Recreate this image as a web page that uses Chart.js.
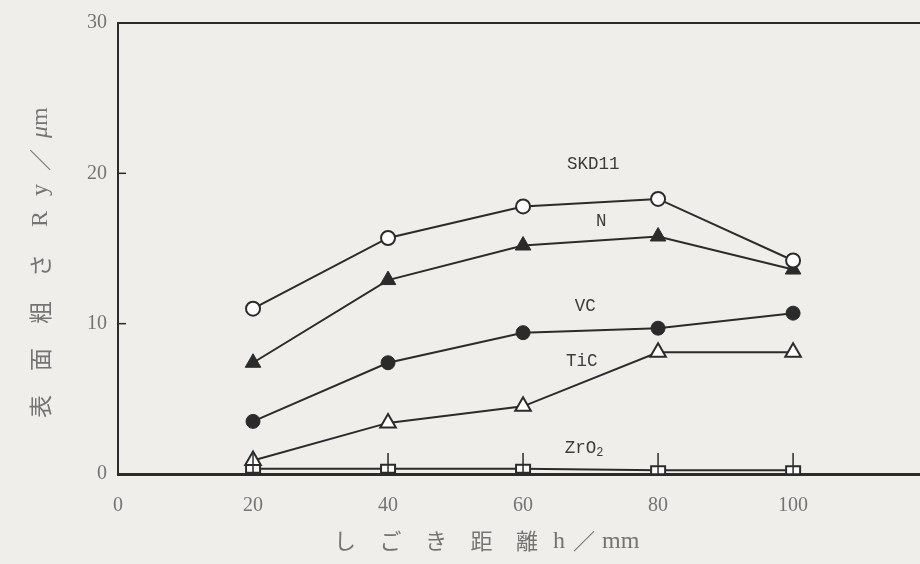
<!DOCTYPE html>
<html>
<head>
<meta charset="utf-8">
<script src="https://cdn.jsdelivr.net/npm/chart.js@4.4.1/dist/chart.umd.min.js"></script>
<style>
  html, body { margin: 0; padding: 0; background: #efeeeb; overflow: hidden; }
  #wrap { width: 920px; height: 564px; }
</style>
</head>
<body>
<div id="wrap"><canvas id="roughChart" width="920" height="564"></canvas></div>
<script>
// distance h / mm
var distances = [20, 40, 60, 80, 100];
var xTicks = [0, 20, 40, 60, 80, 100];
var yTicks = [0, 10, 20, 30];

// surface roughness Ry / um
var skd11 = [11.0, 15.7, 17.8, 18.3, 14.2];
var nitride = [7.4, 12.9, 15.2, 15.8, 13.6];
var vc = [3.5, 7.4, 9.4, 9.7, 10.7];
var tic = [0.9, 3.4, 4.5, 8.1, 8.1];
var zro2 = [0.35, 0.35, 0.35, 0.25, 0.25];

var seriesNames = ['SKD11', 'N', 'VC', 'TiC', 'ZrO\u2082'];
// where each series name sits (data coords)
var nameX = [70.4, 71.6, 69.2, 68.7, 69.2];
var nameY = [20.6, 16.8, 11.2, 7.5, 1.7];

var ink = '#2b2b2b';
var grey = '#747474';

function pts(vals) {
    return distances.map(function(d, i) { return { x: d, y: vals[i] }; });
}

// small flat box used for the ZrO2 points
var box = document.createElement('canvas');
box.width = 18; box.height = 12;
(function() {
    var b = box.getContext('2d');
    b.fillStyle = '#ffffff';
    b.fillRect(2, 2, 14, 8);
    b.strokeStyle = ink;
    b.lineWidth = 2;
    b.strokeRect(2, 2, 14, 8);
})();

function spaced(c, text, x, y, gap) {
    // draws text char by char with a fixed pitch
    for (var i = 0; i < text.length; i++) {
        c.fillText(text[i], x + i * gap, y);
    }
}

var frame = {
    id: 'frame',
    afterDraw: function(chart) {
        var c = chart.ctx, a = chart.chartArea;
        var xs = chart.scales.x, ys = chart.scales.y;
        c.save();
        c.strokeStyle = ink;
        c.lineWidth = 2;
        c.beginPath();
        c.moveTo(a.left, a.top);
        c.lineTo(a.right, a.top);
        c.stroke();
        // inward ticks
        c.lineWidth = 1.5;
        yTicks.forEach(function(t) {
            if (t === 0 || t === 30) return;
            var y = ys.getPixelForValue(t);
            c.beginPath();
            c.moveTo(a.left, y);
            c.lineTo(a.left + 8, y);
            c.stroke();
        });
        distances.forEach(function(t) {
            var x = xs.getPixelForValue(t);
            c.beginPath();
            c.moveTo(x, a.bottom);
            c.lineTo(x, a.bottom - 21);
            c.stroke();
        });
        // series names
        c.fillStyle = '#3c3c3c';
        c.font = '19px "Liberation Mono"';
        c.textAlign = 'center';
        c.textBaseline = 'middle';
        seriesNames.forEach(function(n, i) {
            c.save();
            var px = xs.getPixelForValue(nameX[i]);
            var py = ys.getPixelForValue(nameY[i]);
            c.translate(px, py);
            c.scale(0.92, 1);
            if (n.indexOf('\u2082') > 0) {
                c.textAlign = 'left';
                var w = c.measureText('ZrO').width;
                c.fillText('ZrO', -w / 2 - 5, 0);
                c.font = '13px "Liberation Mono"';
                c.fillText('2', w / 2 - 5, 4);
            } else {
                c.fillText(n, 0, 0);
            }
            c.restore();
        });
        // axis titles
        c.fillStyle = grey;
        c.textAlign = 'left';
        c.font = '22px "Noto Sans CJK JP"';
        spaced(c, 'しごき距離', 334, 541, 45.5);
        c.font = '24px "Liberation Serif", "Noto Sans CJK JP"';
        c.fillText('h', 553, 542);
        c.font = '22px "Noto Sans CJK JP"';
        c.fillText('／', 573, 541);
        c.font = '24px "Liberation Serif"';
        c.fillText('mm', 602, 542);

        c.translate(40, 418);
        c.rotate(-Math.PI / 2);
        c.font = '23px "Noto Sans CJK JP"';
        spaced(c, '表面粗さ', 0, 0, 47);
        c.font = '24px "Liberation Serif"';
        c.fillText('R', 191, 1);
        c.fillText('y', 222, 1);
        c.font = '22px "Noto Sans CJK JP"';
        c.fillText('／', 247, 0);
        c.font = 'italic 24px "Liberation Serif"';
        c.fillText('μ', 280, 1);
        c.font = '24px "Liberation Serif"';
        c.fillText('m', 292, 1);
        c.restore();
    }
};

var ctx = document.getElementById('roughChart').getContext('2d');
var roughChart = new Chart(ctx, {
    type: 'line',
    data: {
        datasets: [{
            label: 'SKD11',
            data: pts(skd11),
            borderColor: ink,
            backgroundColor: '#ffffff',
            pointStyle: 'circle',
            pointRadius: 7,
            pointBorderWidth: 2
        }, {
            label: 'N',
            data: pts(nitride),
            borderColor: ink,
            backgroundColor: ink,
            pointStyle: 'triangle',
            pointRadius: 9,
            pointBorderWidth: 1
        }, {
            label: 'VC',
            data: pts(vc),
            borderColor: ink,
            backgroundColor: ink,
            pointStyle: 'circle',
            pointRadius: 7,
            pointBorderWidth: 1
        }, {
            label: 'TiC',
            data: pts(tic),
            borderColor: ink,
            backgroundColor: '#ffffff',
            pointStyle: 'triangle',
            pointRadius: 9,
            pointBorderWidth: 2
        }, {
            label: 'ZrO2',
            data: pts(zro2),
            borderColor: ink,
            backgroundColor: '#ffffff',
            pointStyle: box,
            pointRadius: 6
        }]
    },
    options: {
        responsive: false,
        animation: false,
        layout: { autoPadding: false, padding: { top: 20, right: 0, left: 0, bottom: 0 } },
        elements: { line: { borderWidth: 2, tension: 0 } },
        plugins: {
            legend: { display: false },
            tooltip: { enabled: false }
        },
        scales: {
            x: {
                type: 'linear',
                min: 0,
                max: 118.8,
                afterBuildTicks: function(s) { s.ticks = xTicks.map(function(v) { return { value: v }; }); },
                afterFit: function(s) { s.height = 90; },
                grid: { display: false, drawTicks: false },
                border: { display: true, color: ink, width: 3 },
                ticks: {
                    padding: 20,
                    color: grey,
                    font: { family: '"Liberation Serif"', size: 20 }
                }
            },
            y: {
                min: 0,
                max: 30,
                afterBuildTicks: function(s) { s.ticks = yTicks.map(function(v) { return { value: v }; }); },
                afterFit: function(s) { s.width = 118; },
                grid: { display: false, drawTicks: false },
                border: { display: true, color: ink, width: 2 },
                ticks: {
                    padding: 11,
                    color: grey,
                    font: { family: '"Liberation Serif"', size: 20 }
                }
            }
        }
    },
    plugins: [frame]
});
</script>
</body>
</html>
